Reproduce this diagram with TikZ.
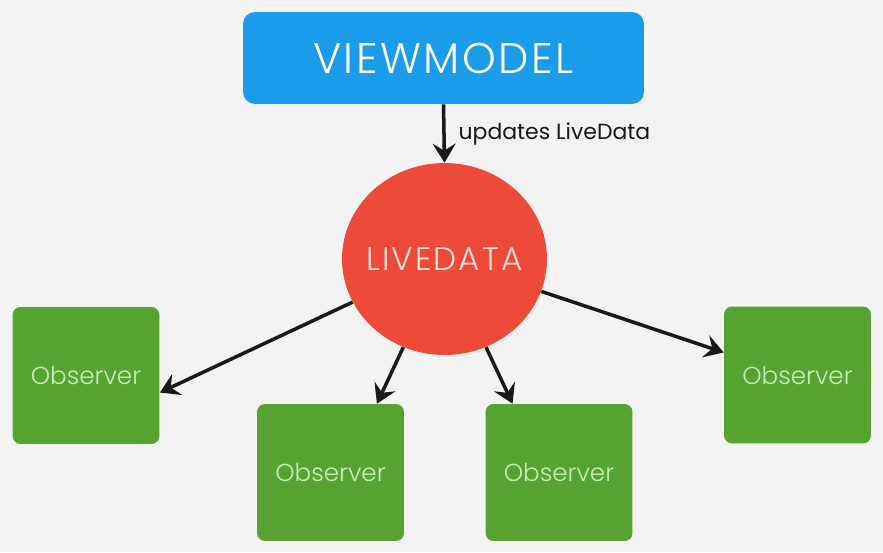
\documentclass[tikz,border=0pt]{standalone}
\usepackage{fontspec}
\setmainfont{Poppins}
\newfontfamily\thinfont{Poppins Light}
\newfontfamily\capsfont{Poppins Light}[LetterSpace=6]
\usetikzlibrary{arrows.meta,shapes.geometric}

\definecolor{bgGray}{HTML}{F3F3F3}
\definecolor{vmBlue}{HTML}{1A9CEA}
\definecolor{liveRed}{HTML}{EE4A3A}
\definecolor{obsGreen}{HTML}{56A332}
\definecolor{obsText}{HTML}{CDEDB8}
\definecolor{liveText}{HTML}{FCE0DA}

\tikzset{
    vmbox/.style={draw=none, fill=vmBlue, rounded corners=0.24cm,
        minimum width=8.02cm, minimum height=1.84cm, inner sep=0pt,
        text=white, font=\capsfont\fontsize{24.4}{28}\selectfont},
    livecircle/.style={ellipse, draw=none, fill=liveRed,
        minimum width=4.1cm, minimum height=3.84cm, inner sep=0pt},
    livetext/.style={text=liveText, font=\capsfont\fontsize{18.6}{22}\selectfont},
    obsbox/.style={draw=none, fill=obsGreen, rounded corners=0.16cm,
        minimum width=2.94cm, minimum height=2.74cm, inner sep=0pt,
        text=obsText, font=\thinfont\fontsize{14}{17}\selectfont},
    link/.style={line width=2pt, black!90,
        -{Stealth[length=0.38cm, width=0.46cm, inset=0.14cm]}},
}

\begin{document}
\begin{tikzpicture}[x=0.02cm, y=-0.02cm]
    \fill[bgGray] (0,0) rectangle (883,552);
    \useasboundingbox (0,0) rectangle (883,552);

    \node[vmbox]      (vm)   at (443.5,58)    {VIEWMODEL};
    \node[livecircle, label={[livetext]center:LIVEDATA}] (live) at (444.5,259) {};

    \node[obsbox] (obsL)  at (86,375.5)    {Observer};
    \node[obsbox] (obsBL) at (330.5,472.5) {Observer};
    \node[obsbox] (obsBR) at (559,472.5)   {Observer};
    \node[obsbox] (obsR)  at (797.5,375)   {Observer};

    \draw[link] (vm.south) -- (live.north)
        node[midway, right, xshift=4pt, font=\fontsize{12.5}{15}\selectfont] {updates LiveData};

    \draw[link] (live) -- (obsL.-13);
    \draw[link] (live) -- (obsBL.56);
    \draw[link] (live) -- (obsBR.124);
    \draw[link] (live) -- (obsR.163);

\end{tikzpicture}
\end{document}
